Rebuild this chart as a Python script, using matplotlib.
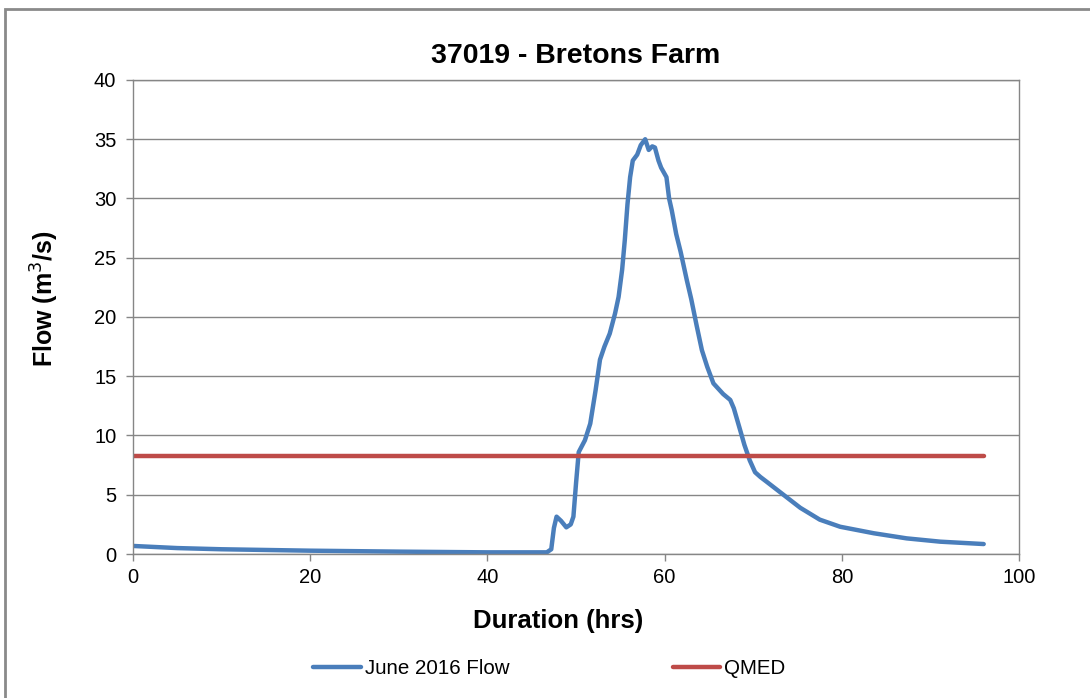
import matplotlib.pyplot as plt
import matplotlib
from matplotlib.patches import Rectangle

matplotlib.rcParams['font.family'] = ['Liberation Sans', 'DejaVu Sans']

# hydrograph (hrs, m3/s)
duration = [0, 5, 10, 20, 30, 40, 46.7, 47.2, 47.5, 47.8, 48.3, 48.9, 49.4, 49.7,
            50.0, 50.3, 51.0, 51.6, 52.2, 52.7, 53.2, 53.8, 54.4, 54.8, 55.2, 55.5,
            55.8, 56.1, 56.4, 56.9, 57.3, 57.8, 58.2, 58.6, 58.9, 59.3, 59.6, 60.2,
            60.5, 60.8, 61.3, 61.8, 62.5, 63.0, 63.6, 64.2, 64.8, 65.5, 66.6, 67.4,
            67.8, 68.5, 69.0, 69.6, 70.2, 70.8, 71.5, 73.4, 75.3, 77.5, 79.8, 83.6,
            87.3, 91.1, 96.0]
flow = [0.68, 0.5, 0.4, 0.28, 0.2, 0.14, 0.14, 0.4, 2.2, 3.15, 2.8, 2.25, 2.5, 3.15,
        6.0, 8.6, 9.6, 11.0, 13.8, 16.4, 17.5, 18.6, 20.3, 21.7, 24.0, 26.5,
        29.5, 31.8, 33.2, 33.7, 34.5, 35.0, 34.1, 34.4, 34.3, 33.2, 32.6, 31.8,
        30.0, 29.0, 27.0, 25.5, 23.1, 21.5, 19.3, 17.2, 15.8, 14.4, 13.5, 13.0,
        12.3, 10.5, 9.2, 7.9, 6.9, 6.5, 6.1, 5.0, 3.9, 2.9, 2.3, 1.75,
        1.32, 1.04, 0.84]

qmed_x = [0, 96.0]
qmed_y = [8.3, 8.3]

fig = plt.figure(figsize=(10.9, 6.98), dpi=100)
ax = fig.add_axes([0.122, 0.2063, 0.813, 0.6791])

ax.plot(duration, flow, color='#4A7EBB', linewidth=3.2, label='June 2016 Flow',
        solid_capstyle='round', solid_joinstyle='round')
ax.plot(qmed_x, qmed_y, color='#BE4B48', linewidth=3.2, label='QMED',
        solid_capstyle='round')

ax.set_xlim(0, 100)
ax.set_ylim(0, 40)
ax.set_xticks(range(0, 101, 20))
ax.set_yticks(range(0, 41, 5))
ax.yaxis.grid(True, color='#868686', linewidth=1)
ax.set_axisbelow(True)
for s in ax.spines.values():
    s.set_color('#868686')
    s.set_linewidth(1)
ax.tick_params(axis='both', colors='#868686', labelcolor='black', labelsize=14.5,
               length=5, width=1)
ax.tick_params(axis='x', pad=5)
ax.tick_params(axis='y', pad=7)

ax.set_title('37019 - Bretons Farm', fontsize=20.5, fontweight='bold', pad=12)
ax.set_xlabel('Duration (hrs)', fontsize=18.5, fontweight='bold', labelpad=16, x=0.48)
ax.set_ylabel('Flow (m$^3$/s)', fontsize=18, fontweight='bold', labelpad=24, y=0.538)

leg = fig.legend(loc='center', bbox_to_anchor=(0.504, 0.042), ncol=2, frameon=False,
                 fontsize=14.8, handlelength=2.3, handletextpad=0.2, columnspacing=7.95)

# outer chart border (cut off at right and bottom)
fig.patches.append(Rectangle((5 / 1090, -0.1), 1.2, 1 - 9 / 698 + 0.1,
                             transform=fig.transFigure, fill=False,
                             edgecolor='#8a8a8a', linewidth=2))

plt.savefig('out.png', dpi=100)
